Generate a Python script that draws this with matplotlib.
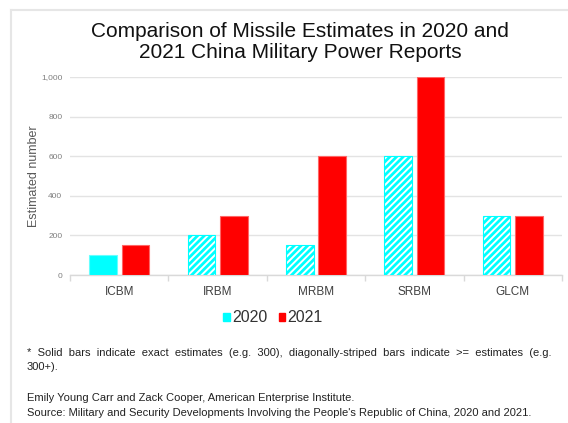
import matplotlib
matplotlib.use("Agg")
import matplotlib.pyplot as plt
from matplotlib.patches import Patch
from matplotlib.lines import Line2D
import numpy as np

plt.rcParams['font.family'] = ['Liberation Sans', 'DejaVu Sans']
plt.rcParams['hatch.linewidth'] = 2.0

categories = ["ICBM", "IRBM", "MRBM", "SRBM", "GLCM"]
values_2020 = [100, 200, 150, 600, 300]
values_2021 = [150, 300, 600, 1000, 300]
hatched_2020 = [False, True, True, True, True]
series_names = ["2020", "2021"]
yticks = [0, 200, 400, 600, 800, 1000]
ytick_labels = ["0", "200", "400", "600", "800", "1,000"]

CYAN = "#00ffff"
RED = "#ff0000"

fig = plt.figure(figsize=(5.68, 4.23), dpi=100)
W, H = 568, 423
ax = fig.add_axes([70 / W, 1 - 275 / H, 492 / W, 198 / H])

x = np.arange(len(categories))
bw = 0.28
off = 0.165
for xi, v, h in zip(x, values_2020, hatched_2020):
    if h:
        ax.bar(xi - off, v, width=bw, facecolor="white", edgecolor=CYAN,
               hatch="/////", linewidth=0.8, zorder=3)
    else:
        ax.bar(xi - off, v, width=bw, facecolor=CYAN, edgecolor="#66ffff",
               linewidth=0.8, zorder=3)
ax.bar(x + off, values_2021, width=bw, facecolor=RED, edgecolor="#ff6666",
       linewidth=0.8, zorder=3)

ax.set_xlim(-0.5, len(categories) - 0.5)
ax.set_ylim(0, 1000)
ax.set_yticks(yticks)
ax.set_yticklabels(ytick_labels, fontsize=6, color="#7f7f7f")
ax.set_xticks(x)
ax.set_xticklabels(categories, fontsize=8.5, color="#404040")
ax.set_xticks(np.arange(-0.5, len(categories), 1.0), minor=True)
ax.tick_params(axis="x", which="major", length=0, pad=8)
ax.tick_params(axis="x", which="minor", length=4, color="#d9d9d9", width=1)
ax.tick_params(axis="y", length=0, pad=5.5)
ax.grid(axis="y", color="#e3e3e3", linewidth=1, zorder=0)
for s in ["top", "right", "left"]:
    ax.spines[s].set_visible(False)
ax.spines["bottom"].set_color("#d9d9d9")
ax.spines["bottom"].set_linewidth(1)
ax.set_ylabel("Estimated number", fontsize=9, color="#595959", labelpad=1)

fig.text(300 / W, 1 - 42 / H,
         "Comparison of Missile Estimates in 2020 and\n2021 China Military Power Reports",
         ha="center", va="center", fontsize=15, color="#111111", linespacing=1.15)

handles = [Patch(facecolor=CYAN, edgecolor=CYAN), Patch(facecolor=RED, edgecolor=RED)]
fig.legend(handles, series_names, loc="center", bbox_to_anchor=(273 / W, 1 - 318 / H),
           ncol=2, frameon=False, fontsize=11.5, handlelength=0.4, handleheight=0.4,
           handletextpad=0.15, columnspacing=0.7, labelcolor="#333333")

foot_kw = dict(ha="left", va="center", fontsize=8, color="#222222")
line1 = "* Solid bars indicate exact estimates (e.g. 300), diagonally-striped bars indicate >= estimates (e.g."
fig.text(27 / W, 1 - 353 / H, line1.replace(" ", "  "), **foot_kw)
fig.text(27 / W, 1 - 367 / H, "300+).", **foot_kw)
fig.text(27 / W, 1 - 398 / H, "Emily Young Carr and Zack Cooper, American Enterprise Institute.", **foot_kw)
fig.text(27 / W, 1 - 413 / H,
         "Source: Military and Security Developments Involving the People's Republic of China, 2020 and 2021.",
         **foot_kw)

fig.add_artist(Line2D([10.5 / W, 10.5 / W], [0, 1 - 10 / H], transform=fig.transFigure,
                      color="#e6e6e6", linewidth=1.5))
fig.add_artist(Line2D([10.5 / W, 1], [1 - 10 / H, 1 - 10 / H], transform=fig.transFigure,
                      color="#e6e6e6", linewidth=1.5))

fig.savefig("out.png", dpi=100, facecolor="white")
